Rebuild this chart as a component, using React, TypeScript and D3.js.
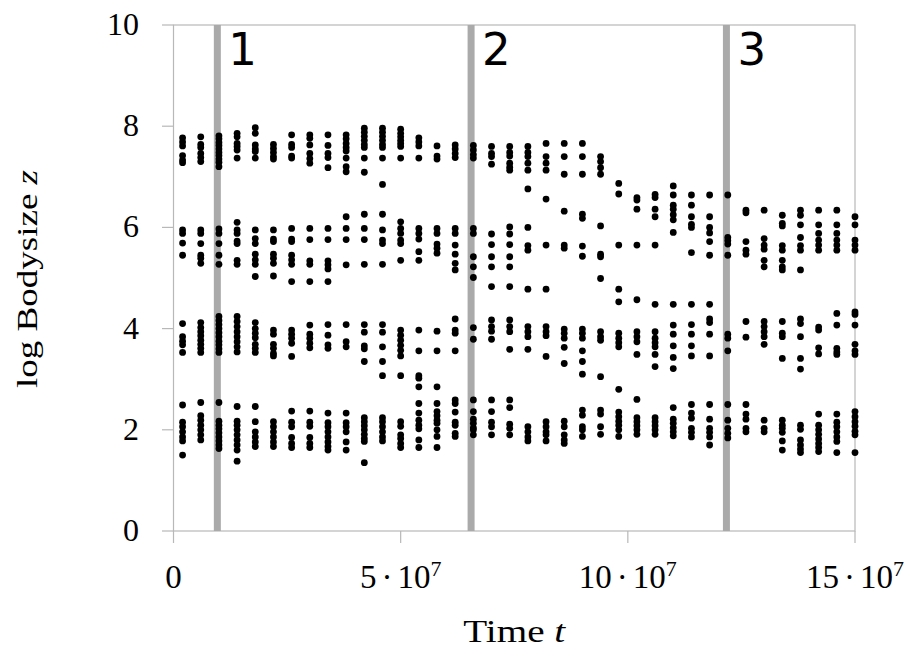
import React from 'react';
import * as d3 from 'd3';

// sample times, in units of 10^7
const times = [
  0.2, 0.6, 1.0, 1.4, 1.8, 2.2, 2.6, 3.0, 3.4, 3.8, 4.2, 4.6, 5.0, 5.4, 5.8, 6.2, 6.6, 7.0, 7.4,
  7.8, 8.2, 8.6, 9.0, 9.4, 9.8, 10.2, 10.6, 11.0, 11.4, 11.8, 12.2, 12.6, 13.0, 13.4, 13.8, 14.2, 14.6, 15.0,
];

// log bodysize of the species alive at each sample time, split by cluster
const clusterTop = [
  [7.77, 7.69, 7.61, 7.42, 7.33, 7.28],
  [7.79, 7.64, 7.58, 7.46, 7.38, 7.3],
  [7.81, 7.75, 7.68, 7.62, 7.55, 7.48, 7.42, 7.35, 7.29, 7.2],
  [7.86, 7.79, 7.66, 7.6, 7.53, 7.37],
  [7.97, 7.86, 7.63, 7.55, 7.5, 7.37],
  [7.64, 7.56, 7.48, 7.4, 7.35],
  [7.83, 7.64, 7.58, 7.41, 7.37],
  [7.83, 7.76, 7.63, 7.46, 7.36, 7.27],
  [7.83, 7.62, 7.46, 7.38, 7.18],
  [7.83, 7.75, 7.66, 7.58, 7.51, 7.37, 7.2, 7.1],
  [7.96, 7.88, 7.8, 7.72, 7.64, 7.58, 7.37, 7.09],
  [7.96, 7.88, 7.8, 7.72, 7.64, 7.58, 7.37, 6.85],
  [7.94, 7.86, 7.79, 7.72, 7.66, 7.6, 7.37],
  [7.77, 7.69, 7.61, 7.37],
  [7.61, 7.41, 7.35],
  [7.63, 7.55, 7.46, 7.38],
  [7.62, 7.53, 7.44, 7.37],
  [7.6, 7.46, 7.4, 7.25],
  [7.6, 7.48, 7.41, 7.27, 7.19, 7.13],
  [7.6, 7.48, 7.4, 7.27, 7.13, 6.76],
  [7.66, 7.4, 7.27, 7.13, 6.56],
  [7.66, 7.4, 7.05, 6.32],
  [7.66, 7.4, 7.05, 6.26, 6.18],
  [7.4, 7.3, 7.18, 7.05],
  [6.87, 6.66],
  [6.59, 6.54, 6.36],
  [6.65, 6.59, 6.36, 6.21],
  [6.82, 6.64, 6.44, 6.36, 6.25, 6.15],
  [6.64, 6.44, 6.21, 6.06, 6.0],
  [6.64, 6.21, 6.0, 5.89],
  [6.64],
  [6.34, 6.29],
  [6.34],
  [6.24, 6.08, 6.03],
  [6.34, 6.24, 6.05],
  [6.34, 6.05, 5.88],
  [6.34, 6.05, 5.88],
  [6.21, 6.05],
];

const clusterUpper = [
  [5.95, 5.88, 5.69, 5.45],
  [5.95, 5.88, 5.68, 5.45, 5.39, 5.29],
  [5.97, 5.88, 5.68, 5.45, 5.27],
  [6.1, 5.95, 5.88, 5.73, 5.68, 5.35, 5.27],
  [5.95, 5.78, 5.68, 5.47, 5.36, 5.27, 5.03],
  [5.95, 5.77, 5.72, 5.47, 5.39, 5.29, 5.04],
  [5.98, 5.77, 5.72, 5.45, 5.36, 5.27, 4.93],
  [5.98, 5.76, 5.34, 5.27, 4.93],
  [5.98, 5.76, 5.34, 5.26, 5.18, 4.93],
  [6.21, 5.98, 5.76, 5.26],
  [6.26, 5.98, 5.76, 5.27],
  [6.26, 5.95, 5.75, 5.68, 5.27],
  [6.11, 5.98, 5.88, 5.75, 5.68, 5.35],
  [5.98, 5.88, 5.77, 5.52, 5.35],
  [5.98, 5.88, 5.67, 5.59, 5.49],
  [5.98, 5.88, 5.65, 5.47, 5.29, 5.16],
  [5.98, 5.88, 5.42, 5.22, 5.01],
  [5.87, 5.66, 5.42, 5.22, 4.83],
  [6.01, 5.87, 5.66, 5.42, 5.22, 4.83],
  [6.0, 5.64, 5.55, 4.78],
  [5.65, 4.78],
  [5.65, 5.59],
  [5.63, 5.43],
  [6.03, 5.47, 5.42, 4.99],
  [5.65, 4.78],
  [5.65],
  [5.65],
  [5.9],
  [5.5],
  [5.72, 5.45],
  [5.8, 5.74, 5.67, 5.45],
  [5.72, 5.55, 5.47],
  [5.78, 5.65, 5.57, 5.35, 5.22],
  [5.64, 5.55, 5.35, 5.22, 5.16],
  [5.8, 5.64, 5.55, 5.16],
  [5.75, 5.65, 5.55],
  [5.75, 5.65, 5.55],
  [5.75, 5.65, 5.55],
];

const clusterLower = [
  [4.1, 3.84, 3.75, 3.68, 3.53],
  [4.12, 4.02, 3.94, 3.86, 3.77, 3.69, 3.61, 3.53],
  [4.24, 4.16, 4.08, 4.0, 3.92, 3.84, 3.75, 3.68, 3.6, 3.53],
  [4.24, 4.14, 4.04, 3.94, 3.84, 3.74, 3.64, 3.54],
  [4.12, 4.0, 3.91, 3.82, 3.69, 3.61, 3.53],
  [3.97, 3.89, 3.69, 3.61, 3.51, 3.46],
  [3.97, 3.89, 3.81, 3.71, 3.45],
  [4.07, 3.89, 3.81, 3.71, 3.62],
  [4.08, 3.87, 3.68, 3.61],
  [4.08, 3.74, 3.64],
  [4.08, 3.93, 3.66, 3.6, 3.35],
  [4.08, 3.93, 3.64, 3.35, 3.07],
  [3.97, 3.87, 3.77, 3.67, 3.57, 3.46, 3.07],
  [3.97, 3.56, 3.07, 3.02, 2.85],
  [3.95, 3.56, 2.85],
  [4.19, 3.97, 3.91, 3.56],
  [4.02, 3.79],
  [4.17, 4.04, 3.95, 3.79],
  [4.17, 4.04, 3.94, 3.59],
  [4.04, 3.94, 3.84, 3.59],
  [4.04, 3.94, 3.86, 3.45],
  [3.99, 3.91, 3.81, 3.63, 3.31],
  [3.99, 3.91, 3.81, 3.56, 3.35, 3.1],
  [3.94, 3.84, 3.77, 3.05],
  [4.53, 3.91, 3.81, 3.72, 3.64, 2.8],
  [4.57, 3.94, 3.84, 3.74, 3.49],
  [4.48, 3.94, 3.81, 3.72, 3.64, 3.49, 3.25],
  [4.48, 4.07, 3.89, 3.66, 3.43, 3.21],
  [4.48, 4.08, 3.89, 3.66, 3.46],
  [4.48, 4.19, 4.12, 3.89, 3.46],
  [3.89, 3.81, 3.56],
  [4.14, 3.83],
  [4.14, 4.04, 3.94, 3.84, 3.69],
  [4.14, 3.91, 3.84, 3.41],
  [4.19, 4.1, 3.84, 3.41, 3.2],
  [4.03, 3.97, 3.62, 3.5],
  [4.3, 4.07, 3.61, 3.54, 3.49],
  [4.33, 4.28, 4.07, 3.69, 3.56, 3.49],
];

const clusterBottom = [
  [2.49, 2.15, 2.06, 1.96, 1.86, 1.78, 1.5],
  [2.54, 2.28, 2.19, 2.09, 2.0, 1.9, 1.8],
  [2.54, 2.17, 2.09, 2.02, 1.94, 1.86, 1.78, 1.7, 1.63],
  [2.46, 2.17, 2.09, 2.0, 1.9, 1.8, 1.7, 1.6, 1.38],
  [2.46, 2.16, 1.96, 1.86, 1.76, 1.67],
  [2.16, 2.06, 1.96, 1.86, 1.76, 1.67],
  [2.37, 2.15, 2.06, 1.85, 1.73, 1.65],
  [2.37, 2.15, 2.07, 1.85, 1.73, 1.65],
  [2.33, 2.14, 2.06, 1.96, 1.86, 1.76, 1.67, 1.6],
  [2.33, 2.14, 2.06, 1.96, 1.76, 1.6],
  [2.24, 2.16, 2.08, 2.0, 1.91, 1.83, 1.77, 1.35],
  [2.24, 2.16, 2.06, 1.96, 1.86, 1.78],
  [2.16, 2.07, 1.9, 1.83, 1.73, 1.65],
  [2.52, 2.33, 2.19, 2.09, 2.02, 1.8, 1.65],
  [2.52, 2.36, 2.28, 2.19, 2.13, 2.0, 1.87, 1.65],
  [2.59, 2.52, 2.35, 2.15, 2.09, 1.93, 1.87],
  [2.59, 2.36, 2.21, 2.13, 2.04, 2.0, 1.9],
  [2.59, 2.36, 2.15, 2.06, 1.9],
  [2.59, 2.44, 2.11, 2.03, 1.9],
  [2.06, 1.96, 1.86, 1.78],
  [2.16, 2.06, 1.96, 1.9, 1.78],
  [2.17, 2.06, 1.9, 1.8, 1.73],
  [2.39, 2.29, 2.06, 2.0, 1.87],
  [2.39, 2.31, 2.06, 1.91],
  [2.35, 2.26, 2.17, 2.09, 2.0, 1.87],
  [2.6, 2.24, 2.16, 2.08, 2.0, 1.91],
  [2.24, 2.16, 2.08, 2.0, 1.91],
  [2.44, 2.21, 2.13, 2.04, 1.96, 1.88],
  [2.5, 2.33, 2.23, 2.03, 1.95, 1.86],
  [2.5, 2.21, 2.03, 1.95, 1.86, 1.7],
  [2.5, 2.19, 2.03, 1.93, 1.84],
  [2.5, 2.31, 2.21, 2.03, 1.96],
  [2.19, 2.03, 1.96],
  [2.19, 2.09, 2.03, 1.95, 1.78, 1.6],
  [2.09, 2.01, 1.8, 1.7, 1.62, 1.55],
  [2.31, 2.09, 2.0, 1.91, 1.82, 1.73, 1.65, 1.57],
  [2.31, 2.15, 2.06, 1.96, 1.86, 1.77, 1.55],
  [2.36, 2.26, 2.16, 2.07, 1.97, 1.9, 1.55],
];

// marked events (times in 10^7)
const eventTimes = [0.965, 6.55, 12.17];
const eventLabels = ['1', '2', '3'];

const xTicks = [0, 5, 10, 15];
const yTicks = [0, 2, 4, 6, 8, 10];

const width = 912;
const height = 651;
const plot = { left: 173.5, right: 855, top: 25, bottom: 531 };

const serif = '"Liberation Serif", "Times New Roman", serif';

const App = () => {
  const x = d3.scaleLinear().domain([0, 15]).range([plot.left, plot.right]);
  const y = d3.scaleLinear().domain([0, 10]).range([plot.bottom, plot.top]);

  const points: { t: number; z: number }[] = [];
  [clusterTop, clusterUpper, clusterLower, clusterBottom].forEach(cluster => {
    cluster.forEach((col, i) => {
      col.forEach(z => points.push({ t: times[i], z }));
    });
  });

  return (
    <svg
      width={width}
      height={height}
      style={{ position: 'absolute', left: 0, top: 0, background: '#fff' }}
    >
      {/* frame */}
      <rect
        x={plot.left}
        y={plot.top}
        width={plot.right - plot.left}
        height={plot.bottom - plot.top}
        fill="none"
        stroke="#b8b8b8"
        strokeWidth={1.2}
      />

      {/* y axis ticks and labels */}
      {yTicks.map(v => (
        <g key={'y' + v}>
          <line x1={162} x2={plot.left} y1={y(v)} y2={y(v)} stroke="#b8b8b8" strokeWidth={1.2} />
          <text
            x={139}
            y={y(v) + 10}
            textAnchor="end"
            fontFamily={serif}
            fontSize={32}
            fill="#000"
          >
            {v}
          </text>
        </g>
      ))}

      {/* x axis ticks and labels */}
      {xTicks.map(v => (
        <g key={'x' + v}>
          <line x1={x(v)} x2={x(v)} y1={plot.bottom} y2={plot.bottom + 12} stroke="#b8b8b8" strokeWidth={1.2} />
          <text x={x(v)} y={588} textAnchor="middle" fontFamily={serif} fontSize={33} fill="#000">
            {v === 0 ? (
              '0'
            ) : (
              <>
                <tspan>{v}</tspan>
                <tspan dx={5}>·</tspan>
                <tspan dx={5}>10</tspan>
                <tspan fontSize={22} dy={-12}>7</tspan>
              </>
            )}
          </text>
        </g>
      ))}

      {/* event lines */}
      {eventTimes.map((t, i) => (
        <g key={'e' + i}>
          <line
            x1={x(t)}
            x2={x(t)}
            y1={plot.top}
            y2={plot.bottom}
            stroke="#aaaaaa"
            strokeWidth={7}
          />
          <text
            x={x(t) + 11}
            y={65}
            fontFamily='"DejaVu Sans", sans-serif'
            fontSize={45}
            fill="#000"
          >
            {eventLabels[i]}
          </text>
        </g>
      ))}

      {/* species */}
      {points.map((p, i) => (
        <circle key={i} cx={x(p.t)} cy={y(p.z)} r={3.4} fill="#000" />
      ))}

      {/* axis titles */}
      <text
        x={(plot.left + plot.right) / 2}
        y={642}
        textAnchor="middle"
        fontFamily={serif}
        fontSize={32}
        fill="#000"
        textLength={102}
        lengthAdjust="spacingAndGlyphs"
      >
        Time <tspan fontStyle="italic">t</tspan>
      </text>
      <text
        transform={`translate(37,279) rotate(-90)`}
        textAnchor="middle"
        fontFamily={serif}
        fontSize={30}
        fill="#000"
        textLength={218}
        lengthAdjust="spacingAndGlyphs"
      >
        log Bodysize <tspan fontStyle="italic">z</tspan>
      </text>
    </svg>
  );
};

export default App;
